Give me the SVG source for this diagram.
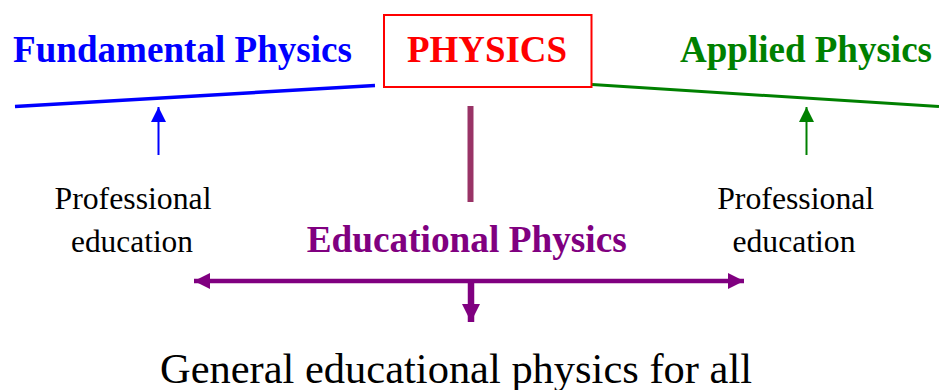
<svg xmlns="http://www.w3.org/2000/svg" width="939" height="390" viewBox="0 0 939 390">
  <style>
    text { font-family: "Liberation Serif", "Times New Roman", serif; }
    .title { font-weight: bold; font-size: 37px; text-anchor: middle; }
    .plain { font-size: 31.5px; text-anchor: middle; fill: #000; }
    .big { font-size: 42px; text-anchor: middle; fill: #000; }
  </style>
  <defs>
    <marker id="arrBlue" viewBox="0 0 10 10" refX="10" refY="5" markerUnits="userSpaceOnUse" markerWidth="16" markerHeight="15" orient="auto">
      <path d="M0,0 L10,5 L0,10 Z" fill="#0000ff"/>
    </marker>
    <marker id="arrGreen" viewBox="0 0 10 10" refX="10" refY="5" markerUnits="userSpaceOnUse" markerWidth="16" markerHeight="15" orient="auto">
      <path d="M0,0 L10,5 L0,10 Z" fill="#008000"/>
    </marker>
    <marker id="arrPurple" viewBox="0 0 10 10" refX="10" refY="5" markerUnits="userSpaceOnUse" markerWidth="16" markerHeight="16" orient="auto-start-reverse">
      <path d="M0,0 L10,5 L0,10 Z" fill="#800080"/>
    </marker>
    <marker id="arrPurpleDown" viewBox="0 0 10 10" refX="10" refY="5" markerUnits="userSpaceOnUse" markerWidth="18" markerHeight="18" orient="auto">
      <path d="M0,0 L10,5 L0,10 Z" fill="#800080"/>
    </marker>
  </defs>

  <g id="connectors">
    <line x1="15" y1="106.5" x2="375" y2="85.5" stroke="#0000ff" stroke-width="3.5"/>
    <line x1="592" y1="84.5" x2="939" y2="106.5" stroke="#008000" stroke-width="3"/>
    <line x1="158.5" y1="155" x2="158.5" y2="107" stroke="#0000ff" stroke-width="2" marker-end="url(#arrBlue)"/>
    <line x1="806.5" y1="155" x2="806.5" y2="107" stroke="#008000" stroke-width="2" marker-end="url(#arrGreen)"/>
    <line x1="470.5" y1="106" x2="470.5" y2="202" stroke="#993366" stroke-width="6"/>
    <line x1="194" y1="281" x2="744" y2="281" stroke="#800080" stroke-width="4.5" marker-start="url(#arrPurple)" marker-end="url(#arrPurple)"/>
    <line x1="471" y1="281" x2="471" y2="322" stroke="#800080" stroke-width="6.5" marker-end="url(#arrPurpleDown)"/>
  </g>

  <g id="physics">
    <rect x="384" y="15" width="207.5" height="72" fill="none" stroke="#ff0000" stroke-width="2"/>
    <text class="title" x="487" y="61.5" fill="#ff0000" textLength="160" lengthAdjust="spacingAndGlyphs">PHYSICS</text>
  </g>
  <g id="fundamental">
    <text class="title" x="182.5" y="61.5" fill="#0000ff" textLength="339" lengthAdjust="spacingAndGlyphs">Fundamental Physics</text>
  </g>
  <g id="applied">
    <text class="title" x="806" y="61.5" fill="#008000" textLength="252" lengthAdjust="spacingAndGlyphs">Applied Physics</text>
  </g>
  <g id="prof-left">
    <text class="plain" x="133" y="209.3" textLength="157" lengthAdjust="spacingAndGlyphs">Professional</text>
    <text class="plain" x="132" y="251.7" textLength="122" lengthAdjust="spacingAndGlyphs">education</text>
  </g>
  <g id="prof-right">
    <text class="plain" x="795.7" y="209.3" textLength="157" lengthAdjust="spacingAndGlyphs">Professional</text>
    <text class="plain" x="794" y="251.7" textLength="123" lengthAdjust="spacingAndGlyphs">education</text>
  </g>
  <g id="educational">
    <text class="title" x="466.7" y="251.7" fill="#800080" textLength="320" lengthAdjust="spacingAndGlyphs">Educational Physics</text>
  </g>
  <g id="general">
    <text class="big" x="456" y="383.3" textLength="592" lengthAdjust="spacingAndGlyphs">General educational physics for all</text>
  </g>
</svg>
